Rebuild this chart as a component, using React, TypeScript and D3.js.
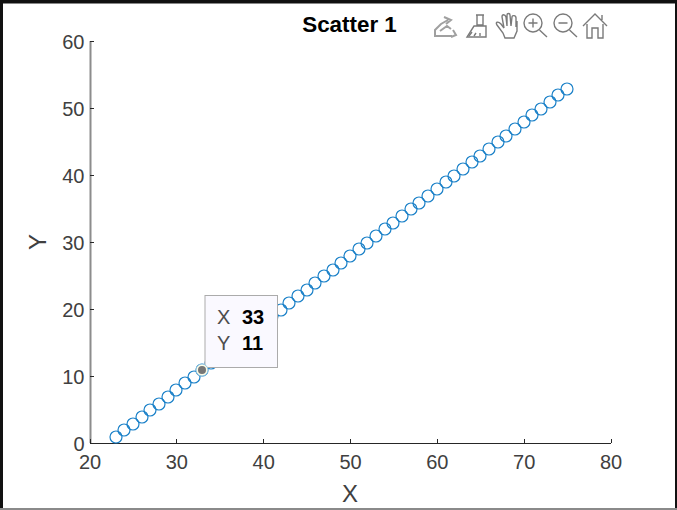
import React from "react";
import * as d3 from "d3";

const title = "Scatter 1";
const xValues = [23,24,25,26,27,28,29,30,31,32,33,34,35,36,37,38,39,40,41,42,43,44,45,46,47,48,49,50,51,52,53,54,55,56,57,58,59,60,61,62,63,64,65,66,67,68,69,70,71,72,73,74,75];
const yValues = [1,2,3,4,5,6,7,8,9,10,11,12,13,14,15,16,17,18,19,20,21,22,23,24,25,26,27,28,29,30,31,32,33,34,35,36,37,38,39,40,41,42,43,44,45,46,47,48,49,50,51,52,53];
const xTicks = [20,30,40,50,60,70,80];
const yTicks = [0,10,20,30,40,50,60];
const selected = { x: 33, y: 11 };

const W = 677, H = 510;
const font = "Arial, 'Liberation Sans', sans-serif";
const tickColor = "#404040";
const x = d3.scaleLinear().domain([20, 80]).range([90, 611]);
const y = d3.scaleLinear().domain([0, 60]).range([443.3, 41.3]);
const px = (v: number) => Math.floor(x(v));
const py = (v: number) => Math.ceil(y(v));
const ic = "#7a7a7a";

export default function App() {
  const sx = px(selected.x), sy = py(selected.y);
  return (
    <svg width={W} height={H} viewBox={`0 0 ${W} ${H}`}
      style={{ position: "fixed", left: 0, top: 0, background: "#fff", fontFamily: font }}>
      <rect x={0} y={0} width={W} height={3.5} fill="#111" />
      <rect x={0} y={0} width={3} height={508} fill="#111" />
      <rect x={675} y={0} width={2} height={508} fill="#111" />
      <rect x={0} y={508} width={W} height={2} fill="#8a8a8a" />

      {/* axes */}
      <line x1={90.5} x2={90.5} y1={41} y2={443} stroke="#8c8c8c" strokeWidth={2} />
      <line x1={90} x2={611} y1={443.5} y2={443.5} stroke="#262626" strokeWidth={1} />
      {xTicks.map(t => (
        <g key={t}>
          <line x1={Math.floor(x(t)) + 0.5} x2={Math.floor(x(t)) + 0.5} y1={443} y2={439} stroke="#262626" />
          <text x={x(t)} y={469} textAnchor="middle" fontSize={20} fill={tickColor}>{t}</text>
        </g>
      ))}
      {yTicks.map(t => (
        <g key={t}>
          <line x1={90} x2={94} y1={Math.floor(y(t)) + 0.5} y2={Math.floor(y(t)) + 0.5} stroke="#262626" />
          <text x={84.5} y={y(t) + 7.5} textAnchor="end" fontSize={20} fill={tickColor}>{t}</text>
        </g>
      ))}
      <text x={350} y={502} textAnchor="middle" fontSize={24} fill={tickColor}>X</text>
      <text transform="translate(46,242) rotate(-90)" textAnchor="middle" fontSize={24} fill={tickColor}>Y</text>
      <text x={349.5} y={32} textAnchor="middle" fontSize={22.4} fontWeight="bold" fill="#000">{title}</text>

      {/* points */}
      {xValues.map((v, i) => (
        <circle key={v} cx={px(v)} cy={py(yValues[i])} r={6} fill="none" stroke="#1a80c8" strokeWidth={1.2} />
      ))}

      {/* data tip */}
      <rect x={205} y={295.5} width={72.5} height={72} fill="#faf9ff" stroke="#ababab" strokeWidth={1} />
      <text x={217} y={324} fontSize={20} fill="#4d4d4d">X</text>
      <text x={217} y={350} fontSize={20} fill="#4d4d4d">Y</text>
      <text x={242} y={324} fontSize={20} fontWeight="bold" fill="#000">{selected.x}</text>
      <text x={242} y={350} fontSize={20} fontWeight="bold" fill="#000">{selected.y}</text>
      <circle cx={sx} cy={sy} r={6} fill="#fbfbe6" stroke="#8fc4e2" strokeWidth={1} />
      <circle cx={sx} cy={sy} r={4} fill="#767676" />

      {/* toolbar */}
      <g fill="none" stroke={ic} strokeWidth={1.4}>
        <g stroke="#a0a0a0" strokeWidth={2}>
          <path d="M434 36 L452 36 M435 36 L435 30 L441 24 L448 20 M440 31 L447 26 L451 29 M444 17 L451 20 L446 24 M453 30 L456 35 L451 37" />
        </g>
        <path d="M476 15 L484 15 M477 15 L477 25 L483 25 L483 15 M474 26 L486 26 L486 37 L467 37 Z" />
        <path d="M472 32 L469 36 M476 33 L474 36 M480 33 L480 36" />
        <path d="M497 25 L503 33 L505 38 L514 38 L517 31 L517 21 M497 25 C495 22 498 21 501 24 L504 28 L502 17 C502 14 505 14 506 17 L507 26 L507 15 C507 13 510 13 510 15 L511 26 L512 17 C512 15 516 15 516 18 L516 27" />
        <circle cx={533} cy={23} r={9} />
        <path d="M533 18.5 L533 27.5 M528.5 23 L537.5 23 M539.5 30 L547 37" />
        <circle cx={563} cy={23} r={9} />
        <path d="M558.5 23 L567.5 23 M569.5 30 L577 37" />
        <path d="M583 26 L595 14 L607 26 M587 24 L587 38 L592 38 L592 28 L598 28 L598 38 L603 38 L603 24 M602 15 L602 20" />
      </g>
    </svg>
  );
}
